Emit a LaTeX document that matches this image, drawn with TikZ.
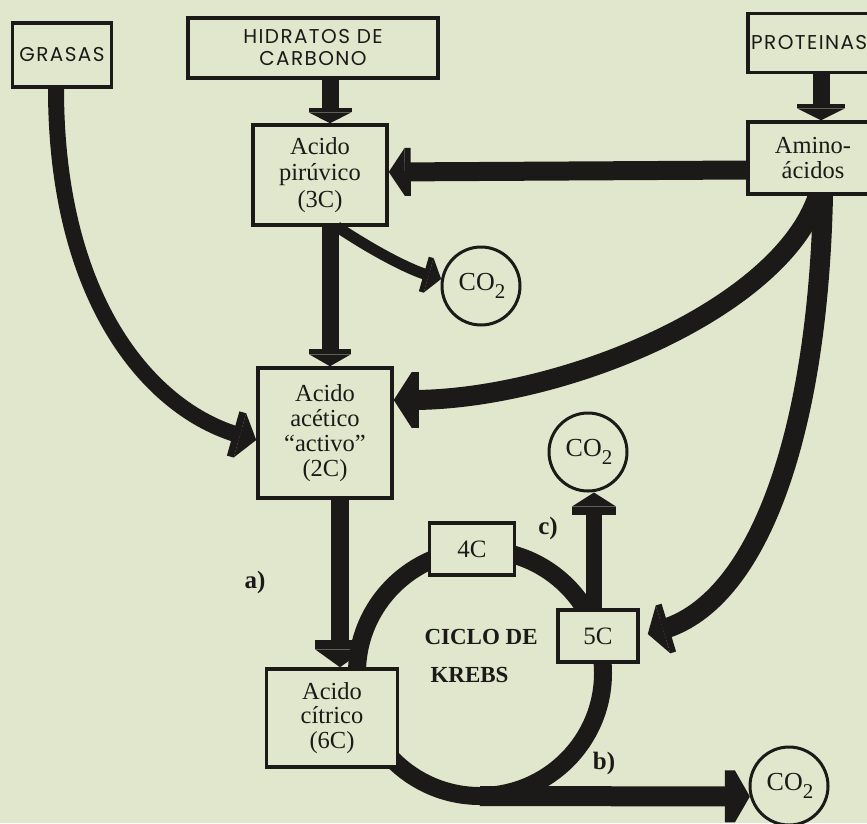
\documentclass[tikz,border=0pt]{standalone}
\usepackage{fontspec}
\setmainfont{Liberation Serif}
\newfontfamily\boxsans[LetterSpace=7]{Poppins}
\usetikzlibrary{arrows.meta,calc}
\definecolor{bgc}{RGB}{225,231,204}
\definecolor{ink}{RGB}{28,26,24}
\tikzset{
  box/.style={draw=ink, line width=3.5pt, fill=bgc, inner sep=0pt, align=center, text=ink,
    font=\fontsize{24.5}{26.5}\selectfont},
  sfont/.style={font=\boxsans\fontsize{20}{22}\selectfont},
  sbox/.style={box, sfont},
  gas/.style={circle, draw=ink, line width=3pt, fill=bgc, minimum size=78pt, inner sep=0pt,
    text=ink, font=\fontsize{26}{26}\selectfont},
  lbl/.style={text=ink, font=\bfseries\fontsize{25}{25}\selectfont},
  shaft/.style={draw=ink, line width=#1},
  blk/.style n args={3}{-{Rectangle[length=#2,width=#1,line width=0pt,sep=0pt]Triangle[length=#3,width=#1,line width=0pt]}}
}
\newcommand{\cotwo}{\hspace*{2pt}CO\raisebox{-0.3em}{\fontsize{21}{21}\selectfont 2}}
\begin{document}
\begin{tikzpicture}[x=1pt,y=-1pt]
\path[use as bounding box] (0,0) rectangle (867,823);
\clip (0,0) rectangle (867,823);
\fill[bgc] (0,0) rectangle (867,823);
% Krebs cycle ring
\coordinate (kc) at (480,673);
\coordinate (kb) at (480,796);
\draw[ink, line width=18pt] (kc) circle[radius=123pt];
% boxes
\node[sbox, minimum width=99pt, minimum height=64pt] (grasas) at (62,55) {GRASAS};
\node[sbox, minimum width=250pt, minimum height=60pt] (hc) at (313,48) {HIDRATOS DE\\CARBONO};
\node[sbox, minimum width=136pt, minimum height=59pt] (prot) at (816,43) {};
\node[sfont, text=ink, inner sep=0pt, anchor=west] (protlbl) at (751,43) {PROTEINAS};
\node[box, minimum width=134pt, minimum height=100pt] (pyr) at (320,175) {Acido\\pirúvico\\(3C)};
\node[box, minimum width=130pt, minimum height=72pt, font=\fontsize{24.5}{25}\selectfont] (amino) at (813,158) {Amino-\\ácidos};
\node[box, minimum width=134pt, minimum height=130pt, font=\fontsize{24.5}{25}\selectfont] (acet) at (325,433) {Acido\\acético\\“activo”\\(2C)};
\node[box, minimum width=131pt, minimum height=98pt, font=\fontsize{24.5}{24.5}\selectfont] (cit) at (332,718) {Acido\\cítrico\\(6C)};
\node[box, minimum width=85pt, minimum height=52pt, font=\fontsize{25}{25}\selectfont] (c4) at (472,549) {4C};
\node[box, minimum width=80pt, minimum height=52pt, font=\fontsize{25}{25}\selectfont] (c5) at (598,636) {5C};
\node[gas] (co2a) at (481,286) {\cotwo};
\node[gas] (co2b) at (588,452) {\cotwo};
\node[gas] (co2c) at (789,786) {\cotwo};
% texts
\node[lbl, anchor=west, align=left, font=\bfseries\fontsize{23}{38}\selectfont] (ciclo) at (421,656) {CICLO DE\\\hspace*{6pt}KREBS};
\node[lbl] (la) at (255,582) {a)};
\node[lbl] (lb) at (604,763) {b)};
\node[lbl] (lc) at (548,528) {c)};
% connectors
\draw[shaft=17pt, blk={43pt}{4pt}{11pt}] ($(hc.south)+(17,0)$) -- ($(pyr.north)+(10,0)$);
\draw[shaft=17pt, blk={48pt}{4pt}{12pt}] ($(prot.south)+(5,0)$) -- ($(amino.north)+(8,0)$);
\draw[shaft=19pt, blk={48pt}{6pt}{16pt}] ($(amino.west)+(0,12)$) -- ($(pyr.east)+(0,-3)$);
\draw[shaft=11pt, blk={36pt}{5pt}{13pt}] ($(pyr.south)+(17,0)$) .. controls (375,252) and (410,270) .. (co2a.170);
\draw[shaft=17pt, blk={42pt}{5pt}{12pt}] ($(pyr.south)+(10,0)$) -- ($(acet.north)+(5,0)$);
\draw[shaft=16pt, blk={46pt}{7pt}{17pt}] ($(grasas.south)+(-6,0)$) .. controls (56,300) and (150,410) .. ($(acet.west)+(0,7)$);
\draw[shaft=20pt, blk={56pt}{7pt}{18pt}] ($(amino.south)+(5,0)$) .. controls (780,310) and (560,400) .. ($(acet.east)+(0,-33)$);
\draw[shaft=20pt, blk={50pt}{6pt}{16pt}] ($(amino.south)+(10,0)$) .. controls (818,430) and (760,600) .. ($(c5.east)+(8,-2)$);
\draw[shaft=18pt, blk={50pt}{9pt}{18pt}] ($(acet.south)+(15,0)$) -- ($(cit.north)+(8,0)$);
\draw[shaft=16pt, blk={44pt}{8pt}{14pt}] ($(c5.north)+(-4,0)$) -- ($(co2b.south)+(6,0)$);
\draw[shaft=20pt, blk={52pt}{10pt}{15pt}] (kb) -- (co2c.195);
\end{tikzpicture}
\end{document}
